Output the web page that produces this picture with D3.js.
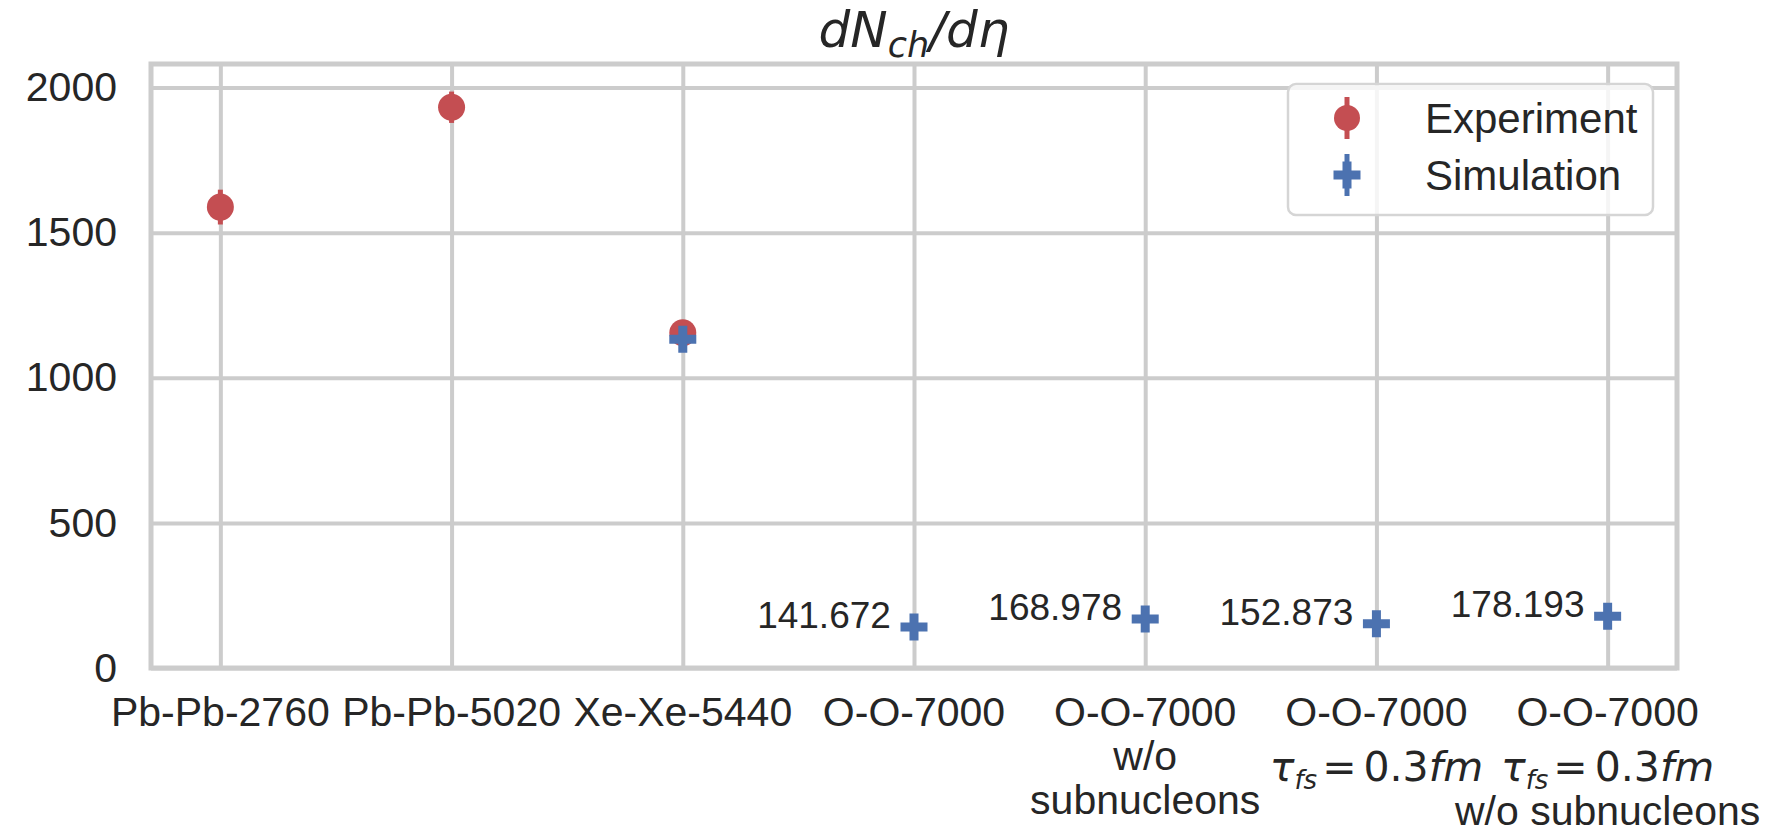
<!DOCTYPE html>
<html lang="en">
<head>
<meta charset="utf-8">
<title>dNch/deta</title>
<script src="https://cdn.jsdelivr.net/npm/d3@7"></script>
<style>
  body { margin: 0; background: #fff; }
  text { font-family: "Liberation Sans", Arial, sans-serif; fill: #262626; }
  .math { font-family: "DejaVu Sans", sans-serif; }
</style>
</head>
<body>
<script>
// data
var categories = ["Pb-Pb-2760", "Pb-Pb-5020", "Xe-Xe-5440", "O-O-7000", "O-O-7000", "O-O-7000", "O-O-7000"];
// extra lines under each tick label ("$tau" = the tau_fs = 0.3fm math line)
var tickExtra = [[], [], [], [], ["w/o", "subnucleons"], ["$tau"], ["$tau", "w/o subnucleons"]];
var yTicks = [0, 500, 1000, 1500, 2000];

var expIdx = [0, 1, 2];
var expValues = [1588, 1932, 1155];
var expErrors = [60, 54, 26];

var simIdx = [2, 3, 4, 5, 6];
var simValues = [1133, 141.672, 168.978, 152.873, 178.193];
var simErrors = [30, 40, 40, 40, 40];
var simLabels = ["", "141.672", "168.978", "152.873", "178.193"];

var w = 1773, h = 830;
var plotLeft = 151, plotRight = 1677, plotTop = 64, plotBottom = 668;
var red = "#c44e52", blue = "#4c72b0", gridCol = "#cccccc";

var xScale = d3.scaleLinear().domain([-0.3, 6.3]).range([plotLeft, plotRight]);
var yScale = d3.scaleLinear().domain([0, 2081]).range([plotBottom, plotTop]);

var svg = d3.select("body").append("svg")
  .attr("width", w).attr("height", h);

// grid + y ticks
var yAxis = svg.append("g")
  .attr("transform", "translate(" + plotLeft + ",0)")
  .call(d3.axisLeft(yScale).tickValues(yTicks).tickFormat(d3.format("d"))
    .tickSize(-(plotRight - plotLeft)).tickPadding(34));
yAxis.select(".domain").remove();
yAxis.selectAll("line").attr("stroke", gridCol).attr("stroke-width", 4);
yAxis.selectAll("text").attr("font-size", 41).attr("fill", "#262626")
  .style("font-family", "'Liberation Sans', Arial, sans-serif");

var xAxis = svg.append("g")
  .attr("transform", "translate(0," + plotBottom + ")")
  .call(d3.axisBottom(xScale).tickValues(d3.range(categories.length))
    .tickSize(-(plotBottom - plotTop)).tickFormat(""));
xAxis.select(".domain").remove();
xAxis.selectAll("line").attr("stroke", gridCol).attr("stroke-width", 4);

// x tick labels (multi-line)
function mathLine(sel) {
  sel.attr("class", "math");
  sel.append("tspan").attr("font-style", "italic").text("τ");
  sel.append("tspan").attr("font-style", "italic").attr("font-size", 26).attr("dy", 8).text("fs");
  sel.append("tspan").attr("dy", -8).attr("dx", 5).text("=");
  sel.append("tspan").attr("dx", 7).text("0.3");
  sel.append("tspan").attr("font-style", "italic").text("fm");
}
categories.forEach(function(c, i) {
  var g = svg.append("g").attr("transform", "translate(" + xScale(i) + ",0)");
  var yy = 726;
  g.append("text").attr("y", yy).attr("text-anchor", "middle").attr("font-size", 41).text(c);
  tickExtra[i].forEach(function(line) {
    if (line === "$tau") {
      yy += 55;
      g.append("text").attr("y", yy).attr("text-anchor", "middle").attr("font-size", 41).call(mathLine);
    } else {
      yy += 44;
      g.append("text").attr("y", yy).attr("text-anchor", "middle").attr("font-size", 41).text(line);
    }
  });
});

// spines
svg.append("rect")
  .attr("x", plotLeft).attr("y", plotTop)
  .attr("width", plotRight - plotLeft).attr("height", plotBottom - plotTop)
  .attr("fill", "none").attr("stroke", gridCol).attr("stroke-width", 5);

// title
var title = svg.append("text").attr("class", "math")
  .attr("x", (plotLeft + plotRight) / 2).attr("y", 47)
  .attr("text-anchor", "middle").attr("font-size", 50).attr("font-style", "italic");
title.append("tspan").text("dN");
title.append("tspan").attr("font-size", 35).attr("dy", 10).text("ch");
title.append("tspan").attr("dy", -10).text("/dη");

// plus marker path
function plusPath(s) {
  var a = s / 2, b = s / 6;
  return "M" + (-b) + "," + (-a) + "H" + b + "V" + (-b) + "H" + a + "V" + b + "H" + b +
    "V" + a + "H" + (-b) + "V" + b + "H" + (-a) + "V" + (-b) + "H" + (-b) + "Z";
}

// experiment
var exp = svg.append("g");
exp.selectAll("line").data(expIdx).enter().append("line")
  .attr("x1", function(d) { return xScale(d); })
  .attr("x2", function(d) { return xScale(d); })
  .attr("y1", function(d, i) { return yScale(expValues[i] - expErrors[i]); })
  .attr("y2", function(d, i) { return yScale(expValues[i] + expErrors[i]); })
  .attr("stroke", red).attr("stroke-width", 5);
exp.selectAll("circle").data(expIdx).enter().append("circle")
  .attr("cx", function(d) { return xScale(d); })
  .attr("cy", function(d, i) { return yScale(expValues[i]); })
  .attr("r", 13.5).attr("fill", red);

// simulation
var sim = svg.append("g");
sim.selectAll("line").data(simIdx).enter().append("line")
  .attr("x1", function(d) { return xScale(d); })
  .attr("x2", function(d) { return xScale(d); })
  .attr("y1", function(d, i) { return yScale(simValues[i] - simErrors[i]); })
  .attr("y2", function(d, i) { return yScale(simValues[i] + simErrors[i]); })
  .attr("stroke", blue).attr("stroke-width", 5);
sim.selectAll("path").data(simIdx).enter().append("path")
  .attr("transform", function(d, i) { return "translate(" + xScale(d) + "," + yScale(simValues[i]) + ")"; })
  .attr("d", plusPath(27)).attr("fill", blue);

// value labels
sim.selectAll("text").data(simIdx).enter().append("text")
  .attr("x", function(d) { return xScale(d - 0.1); })
  .attr("y", function(d, i) { return yScale(simValues[i]) + 1; })
  .attr("text-anchor", "end").attr("font-size", 37)
  .text(function(d, i) { return simLabels[i]; });

// legend
var lg = svg.append("g");
lg.append("rect").attr("x", 1288).attr("y", 84).attr("width", 365).attr("height", 131)
  .attr("rx", 8).attr("fill", "#fff").attr("fill-opacity", 0.8)
  .attr("stroke", "#d5d5d5").attr("stroke-width", 2.5);
var legendItems = [{name: "Experiment", color: red, y: 118, shape: "circle"},
                   {name: "Simulation", color: blue, y: 175, shape: "plus"}];
legendItems.forEach(function(d) {
  lg.append("line").attr("x1", 1347).attr("x2", 1347).attr("y1", d.y - 21).attr("y2", d.y + 21)
    .attr("stroke", d.color).attr("stroke-width", 5);
  if (d.shape === "circle") {
    lg.append("circle").attr("cx", 1347).attr("cy", d.y).attr("r", 13).attr("fill", d.color);
  } else {
    lg.append("path").attr("transform", "translate(1347," + d.y + ")").attr("d", plusPath(27)).attr("fill", d.color);
  }
  lg.append("text").attr("x", 1425).attr("y", d.y + 15).attr("font-size", 42).text(d.name);
});
</script>
</body>
</html>
